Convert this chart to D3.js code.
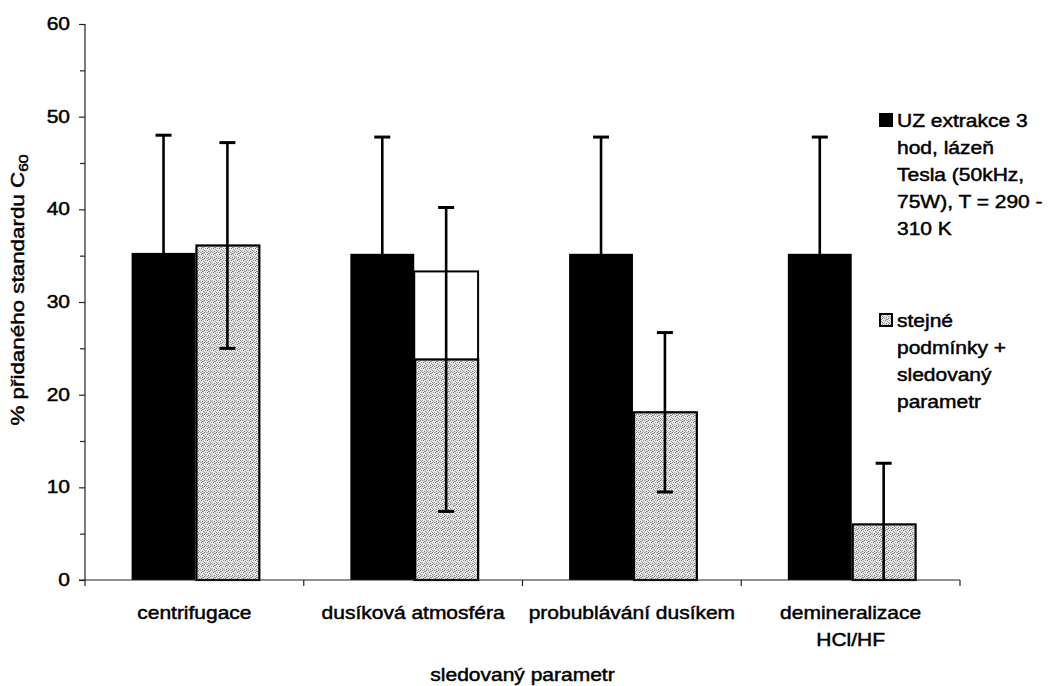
<!DOCTYPE html>
<html>
<head>
<meta charset="utf-8">
<script src="https://cdn.jsdelivr.net/npm/d3@7"></script>
<style>
  html, body { margin: 0; padding: 0; background: #fff; }
  svg { display: block; }
  text { font-family: "Liberation Sans", Arial, sans-serif; fill: #000; stroke: #000; stroke-width: 0.45px; }
</style>
</head>
<body>
<svg id="chart" width="1050" height="686"></svg>
<script>
// Categories (monitored parameter), each split into display lines
const categories = ["centrifugace", "dusíková atmosféra", "probublávání dusíkem", "demineralizace HCl/HF"];
const categoryLines = [["centrifugace"], ["dusíková atmosféra"], ["probublávání dusíkem"], ["demineralizace", "HCl/HF"]];

// Series 1: ultrasonic extraction, reference conditions
const ultrasonicValues = [35.3, 35.2, 35.2, 35.2];
const ultrasonicErrors = [12.7, 12.6, 12.6, 12.6];

// Series 2: same conditions + monitored parameter
const paramValues = [36.1, 23.8, 18.1, 6.0];
const paramErrors = [11.1, 16.4, 8.6, 6.6];
// Outlined (unfilled) bar left over behind the nitrogen-atmosphere column
const paramOutline = [null, 33.3, null, null];

const yTicks = [0, 10, 20, 30, 40, 50, 60];
const yMinorTicks = [5, 15, 25, 35, 45, 55];

const seriesNames = ["ultrasonic", "param"];
const legendLines = [
  ["UZ extrakce 3", "hod, lázeň", "Tesla (50kHz,", "75W), T = 290 -", "310 K"],
  ["stejné", "podmínky +", "sledovaný", "parametr"]
];
const xTitle = "sledovaný parametr";

const svg = d3.select("#chart");
const FS = 17.5;      // font size
const SX = 1.2;       // horizontal text stretch

const plot = { left: 85, right: 960, top: 24, bottom: 580 };

// grainy light-grey fill
const defs = svg.append("defs");
const pat = defs.append("pattern").attr("id", "grain")
  .attr("patternUnits", "userSpaceOnUse").attr("width", 6).attr("height", 6);
pat.append("rect").attr("width", 6).attr("height", 6).attr("fill", "#e6e6e6");
const grainDots = [[0,0],[2,0],[4,1],[1,2],[3,2],[5,3],[0,4],[2,4],[4,5],[1,5],[3,0],[5,1]];
const grainShades = ["#7a7a7a", "#9a9a9a", "#888", "#a6a6a6", "#6c6c6c", "#999", "#8c8c8c", "#b0b0b0", "#777", "#a0a0a0", "#bdbdbd", "#909090"];
grainDots.forEach(([px, py], i) => {
  pat.append("rect").attr("x", px).attr("y", py).attr("width", 1).attr("height", 1)
    .attr("fill", grainShades[i]);
});

const x = d3.scaleBand().domain(categories).range([plot.left, plot.right]).padding(0);
const inner = d3.scaleBand().domain(seriesNames)
  .range([x.bandwidth() * 0.213, x.bandwidth() * 0.797]).padding(0);
const y = d3.scaleLinear().domain([0, 60]).range([plot.bottom, plot.top]);

function stretchedText(g, tx, ty, str, anchor, rot) {
  const t = g.append("text")
    .attr("transform", `translate(${tx},${ty})` + (rot ? ` rotate(${rot})` : "") + ` scale(${SX},1)`)
    .attr("font-size", FS)
    .attr("text-anchor", anchor || "start");
  if (str != null) t.text(str);
  return t;
}

// Y axis
const yAxisG = svg.append("g").attr("transform", `translate(${plot.left},0)`)
  .call(d3.axisLeft(y).tickValues(yTicks).tickSize(6).tickFormat(""));
yAxisG.select(".domain").attr("stroke", "#222").attr("stroke-width", 1.2).attr("d", `M0,${plot.top}V${plot.bottom}`);
yAxisG.selectAll(".tick line").attr("stroke", "#222").attr("stroke-width", 1.2);
svg.append("g").attr("transform", `translate(${plot.left},0)`)
  .call(d3.axisLeft(y).tickValues(yMinorTicks).tickSize(5).tickFormat(""))
  .call(g => g.select(".domain").remove())
  .selectAll(".tick line").attr("stroke", "#222").attr("stroke-width", 1.2);

const yLabels = svg.append("g");
yTicks.forEach(v => stretchedText(yLabels, 70, y(v) + 6, String(v), "end"));

// Bars
const bars = svg.append("g");
categories.forEach((c, i) => {
  const x0 = x(c);
  if (paramOutline[i] != null) {
    bars.append("rect")
      .attr("x", x0 + inner("param")).attr("y", y(paramOutline[i]))
      .attr("width", inner.bandwidth()).attr("height", y(0) - y(paramOutline[i]))
      .attr("fill", "#fff").attr("stroke", "#000").attr("stroke-width", 2);
  }
  bars.append("rect")
    .attr("x", x0 + inner("ultrasonic")).attr("y", y(ultrasonicValues[i]))
    .attr("width", inner.bandwidth()).attr("height", y(0) - y(ultrasonicValues[i]))
    .attr("fill", "#000");
  bars.append("rect")
    .attr("x", x0 + inner("param") + 1).attr("y", y(paramValues[i]))
    .attr("width", inner.bandwidth() - 1).attr("height", y(0) - y(paramValues[i]))
    .attr("fill", "url(#grain)").attr("stroke", "#000").attr("stroke-width", 2.2);
});

// X axis
const xAxisG = svg.append("g").attr("transform", `translate(0,${plot.bottom})`);
xAxisG.append("line").attr("x1", plot.left - 6).attr("x2", plot.right)
  .attr("y1", 0).attr("y2", 0).attr("stroke", "#222").attr("stroke-width", 1.2);
const boundaries = categories.map(c => x(c)).concat([x(categories[categories.length - 1]) + x.bandwidth()]);
boundaries.forEach(bx => xAxisG.append("line").attr("x1", bx).attr("x2", bx)
  .attr("y1", 0).attr("y2", 6).attr("stroke", "#222").attr("stroke-width", 1.2));

// Error bars
const errG = svg.append("g").attr("stroke", "#000");
function errorBar(cx, v, e) {
  const top = v + e, bot = Math.max(0, v - e);
  errG.append("line").attr("x1", cx).attr("x2", cx).attr("y1", y(top)).attr("y2", y(bot)).attr("stroke-width", 2.6);
  errG.append("line").attr("x1", cx - 8).attr("x2", cx + 8).attr("y1", y(top)).attr("y2", y(top)).attr("stroke-width", 3);
  if (v - e > 0) {
    errG.append("line").attr("x1", cx - 8).attr("x2", cx + 8).attr("y1", y(bot)).attr("y2", y(bot)).attr("stroke-width", 3);
  }
}
categories.forEach((c, i) => {
  const w = inner.bandwidth();
  errorBar(x(c) + inner("ultrasonic") + w / 2, ultrasonicValues[i], ultrasonicErrors[i]);
  errorBar(x(c) + inner("param") + w / 2, paramValues[i], paramErrors[i]);
});

// Category labels
const catG = svg.append("g");
categories.forEach((c, i) => {
  categoryLines[i].forEach((line, j) => {
    stretchedText(catG, x(c) + x.bandwidth() / 2, 619 + j * 27, line, "middle");
  });
});

// Axis titles
stretchedText(svg, (plot.left + plot.right) / 2, 681, xTitle, "middle");
const yt = svg.append("text")
  .attr("transform", `translate(24,${(plot.top + plot.bottom) / 2 - 12}) rotate(-90) scale(1.28,1)`)
  .attr("font-size", FS).attr("text-anchor", "middle");
yt.append("tspan").text("% přidaného standardu C");
yt.append("tspan").attr("font-size", FS * 0.7).attr("dy", 4).text("60");

// Legend
const leg = svg.append("g");
const legendY = [127, 327];
leg.append("rect").attr("x", 879).attr("y", legendY[0] - 14).attr("width", 14).attr("height", 14).attr("fill", "#000");
leg.append("rect").attr("x", 880).attr("y", legendY[1] - 13).attr("width", 12).attr("height", 12)
  .attr("fill", "url(#grain)").attr("stroke", "#000").attr("stroke-width", 2);
legendLines.forEach((lines, k) => {
  lines.forEach((line, j) => stretchedText(leg, 897, legendY[k] + j * 27, line, "start"));
});
</script>
</body>
</html>
